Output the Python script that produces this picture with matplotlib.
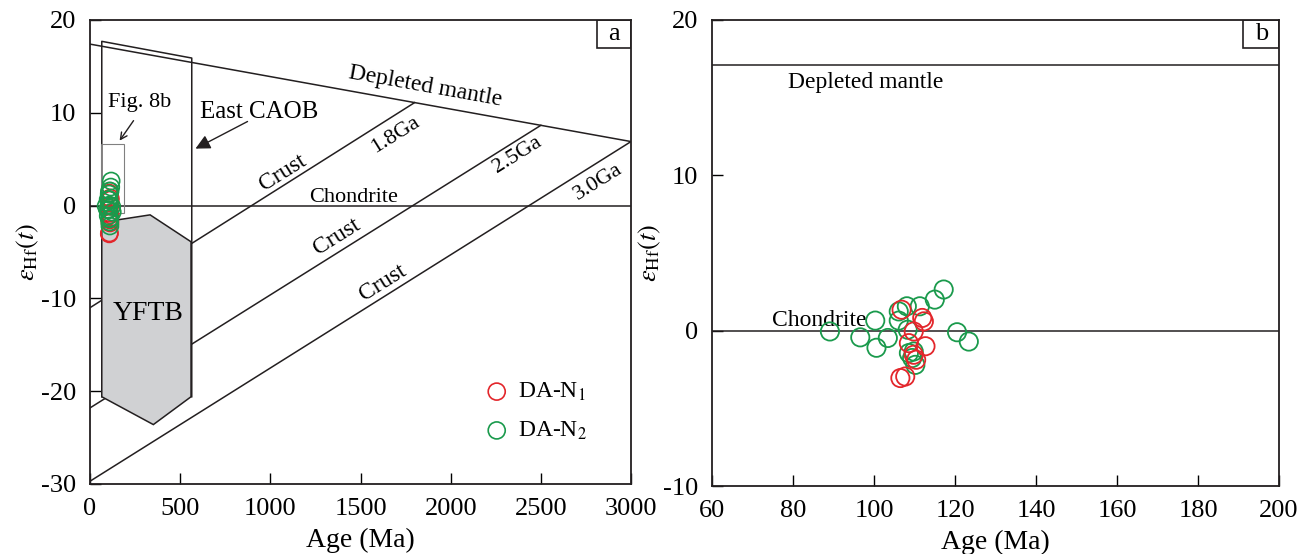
import numpy as np
import matplotlib.pyplot as plt
from matplotlib.patches import Polygon, Rectangle

plt.rcParams['font.family'] = ['Liberation Serif', 'DejaVu Serif']
plt.rcParams['mathtext.fontset'] = 'stix'
plt.rcParams['axes.unicode_minus'] = False

# zircon Hf data: age (Ma), eHf(t)
n1_age = [106.8, 111.9, 112.3, 109.8, 108.6, 112.7, 109.8, 110.4, 106.5, 107.7]
n1_ehf = [1.35, 0.82, 0.6, -0.05, -0.8, -1.0, -1.55, -1.87, -3.05, -2.95]
n2_age = [89.1, 96.6, 100.3, 100.6, 103.4, 106.1, 106.1, 108.1, 108.3, 111.3,
          115.0, 117.2, 120.5, 123.4, 108.6, 109.8, 109.4, 110.2]
n2_ehf = [-0.05, -0.43, 0.65, -1.1, -0.47, 1.24, 0.65, 1.57, 0.06, 1.57,
          2.0, 2.65, -0.1, -0.7, -1.44, -1.34, -1.76, -2.2]

# reference lines (panel a)
dm_age = [0, 3000]
dm_ehf = [17.4, 6.9]
crust_start = [-11.0, -21.8, -29.7]
crust_age = [1800, 2500, 3000]
crust_end = [11.1, 8.65, 6.9]
crust_names = ['1.8Ga', '2.5Ga', '3.0Ga']

# fields
caob_age = [65, 65, 564, 564]
caob_ehf = [-20.6, 17.7, 15.9, -20.6]
yftb_age = [65, 333, 560, 560, 351, 65]
yftb_ehf = [-1.8, -1.0, -3.9, -20.6, -23.6, -20.6]
box8b_age = [59, 188]
box8b_ehf = [-0.8, 6.6]

dm_b = 17.1

red = '#e3262b'
green = '#1a9a4c'
ink = '#231f20'

fig = plt.figure(figsize=(13.07, 5.54), dpi=100)
axa = fig.add_axes([0.0689, 0.1264, 0.4139, 0.8375])
axb = fig.add_axes([0.5448, 0.1227, 0.4338, 0.8412])

lw = 1.1
# ---- panel a
axa.plot(dm_age, dm_ehf, color=ink, lw=lw, zorder=2)
axa.axhline(0, color=ink, lw=lw, zorder=2)
for s, a, e in zip(crust_start, crust_age, crust_end):
    axa.plot([0, a], [s, e], color=ink, lw=lw, zorder=2)
axa.plot(caob_age, caob_ehf, color=ink, lw=lw, zorder=2)
axa.add_patch(Polygon(np.column_stack([yftb_age, yftb_ehf]), closed=True,
                      facecolor='#d0d1d3', edgecolor=ink, lw=lw, zorder=3))
axa.add_patch(Rectangle((box8b_age[0], box8b_ehf[0]), box8b_age[1] - box8b_age[0],
                        box8b_ehf[1] - box8b_ehf[0], fill=False,
                        edgecolor='#808080', lw=0.8, zorder=4))

ms = 150
axa.scatter(n1_age, n1_ehf, s=ms, facecolors='none', edgecolors=red, lw=1.2, zorder=5, label='DA-N$_1$')
axa.scatter(n2_age, n2_ehf, s=ms, facecolors='none', edgecolors=green, lw=1.2, zorder=6, label='DA-N$_2$')

axa.text(1858, 12.8, 'Depleted mantle', fontsize=17, rotation=-10.2, ha='center', va='center')
axa.text(1459, 0.35, 'Chondrite', fontsize=16, ha='center', va='baseline')
crust_txt = [(1070, 3.5), (1370, -3.4), (1625, -8.3)]
ga_txt = [(1692, 7.6), (2368, 5.5), (2818, 2.5)]
for (cx, cy), (gx, gy), nm in zip(crust_txt, ga_txt, crust_names):
    axa.text(cx, cy, 'Crust', fontsize=17, rotation=32, ha='center', va='center')
    axa.text(gx, gy, nm, fontsize=16, rotation=32, ha='center', va='center')
axa.text(323, -11.6, 'YFTB', fontsize=20, ha='center', va='center', zorder=7)
axa.text(610, 10.1, 'East CAOB', fontsize=18, ha='left', va='center')
axa.annotate('', xy=(571, 6.0), xytext=(887, 9.2),
             arrowprops=dict(arrowstyle='-|>', color=ink, lw=1.0, mutation_scale=22))
axa.text(100, 11.1, 'Fig. 8b', fontsize=16, ha='left', va='center')
axa.annotate('', xy=(155, 6.75), xytext=(250, 9.4),
             arrowprops=dict(arrowstyle='->', color=ink, lw=1.0, mutation_scale=12))

axa.legend(loc='upper left', bbox_to_anchor=(0.695, 0.258), frameon=False,
           fontsize=17, handletextpad=0.3, labelspacing=0.7, borderpad=0.2,
           handlelength=1.2)

axa.set_xlim(0, 3000)
axa.set_ylim(-30, 20)
axa.set_xticks(np.arange(0, 3001, 500))
axa.set_yticks(np.arange(-30, 21, 10))

# ---- panel b
axb.axhline(dm_b, color=ink, lw=lw)
axb.axhline(0, color=ink, lw=lw)
axb.scatter(n2_age, n2_ehf, s=ms * 1.15, facecolors='none', edgecolors=green, lw=1.3, zorder=5)
axb.scatter(n1_age, n1_ehf, s=ms * 1.15, facecolors='none', edgecolors=red, lw=1.3, zorder=6)
axb.text(78.8, 16.0, 'Depleted mantle', fontsize=17, ha='left', va='center')
axb.text(74.8, 0.3, 'Chondrite', fontsize=17, ha='left', va='baseline')
axb.set_xlim(60, 200)
axb.set_ylim(-10, 20)
axb.set_xticks(np.arange(60, 201, 20))
axb.set_yticks([-10, 0, 10, 20])

for ax, lab in [(axa, 'a'), (axb, 'b')]:
    ax.tick_params(direction='in', length=8, width=1.0, labelsize=19, pad=10)
    for sp in ax.spines.values():
        sp.set_linewidth(1.3)
        sp.set_color(ink)
    ax.set_xlabel('Age (Ma)', fontsize=20, labelpad=6)
    ax.set_ylabel(r'$\varepsilon_{\rm Hf}(t)$', fontsize=19, labelpad=0)
    ax.add_patch(Rectangle((0.937, 0.94), 0.063, 0.06, transform=ax.transAxes,
                           fill=False, edgecolor=ink, lw=1.2, zorder=8))
    ax.text(0.9685, 0.97, lab, transform=ax.transAxes, fontsize=19,
            ha='center', va='center', zorder=8)

fig.savefig('out.png', dpi=100)
